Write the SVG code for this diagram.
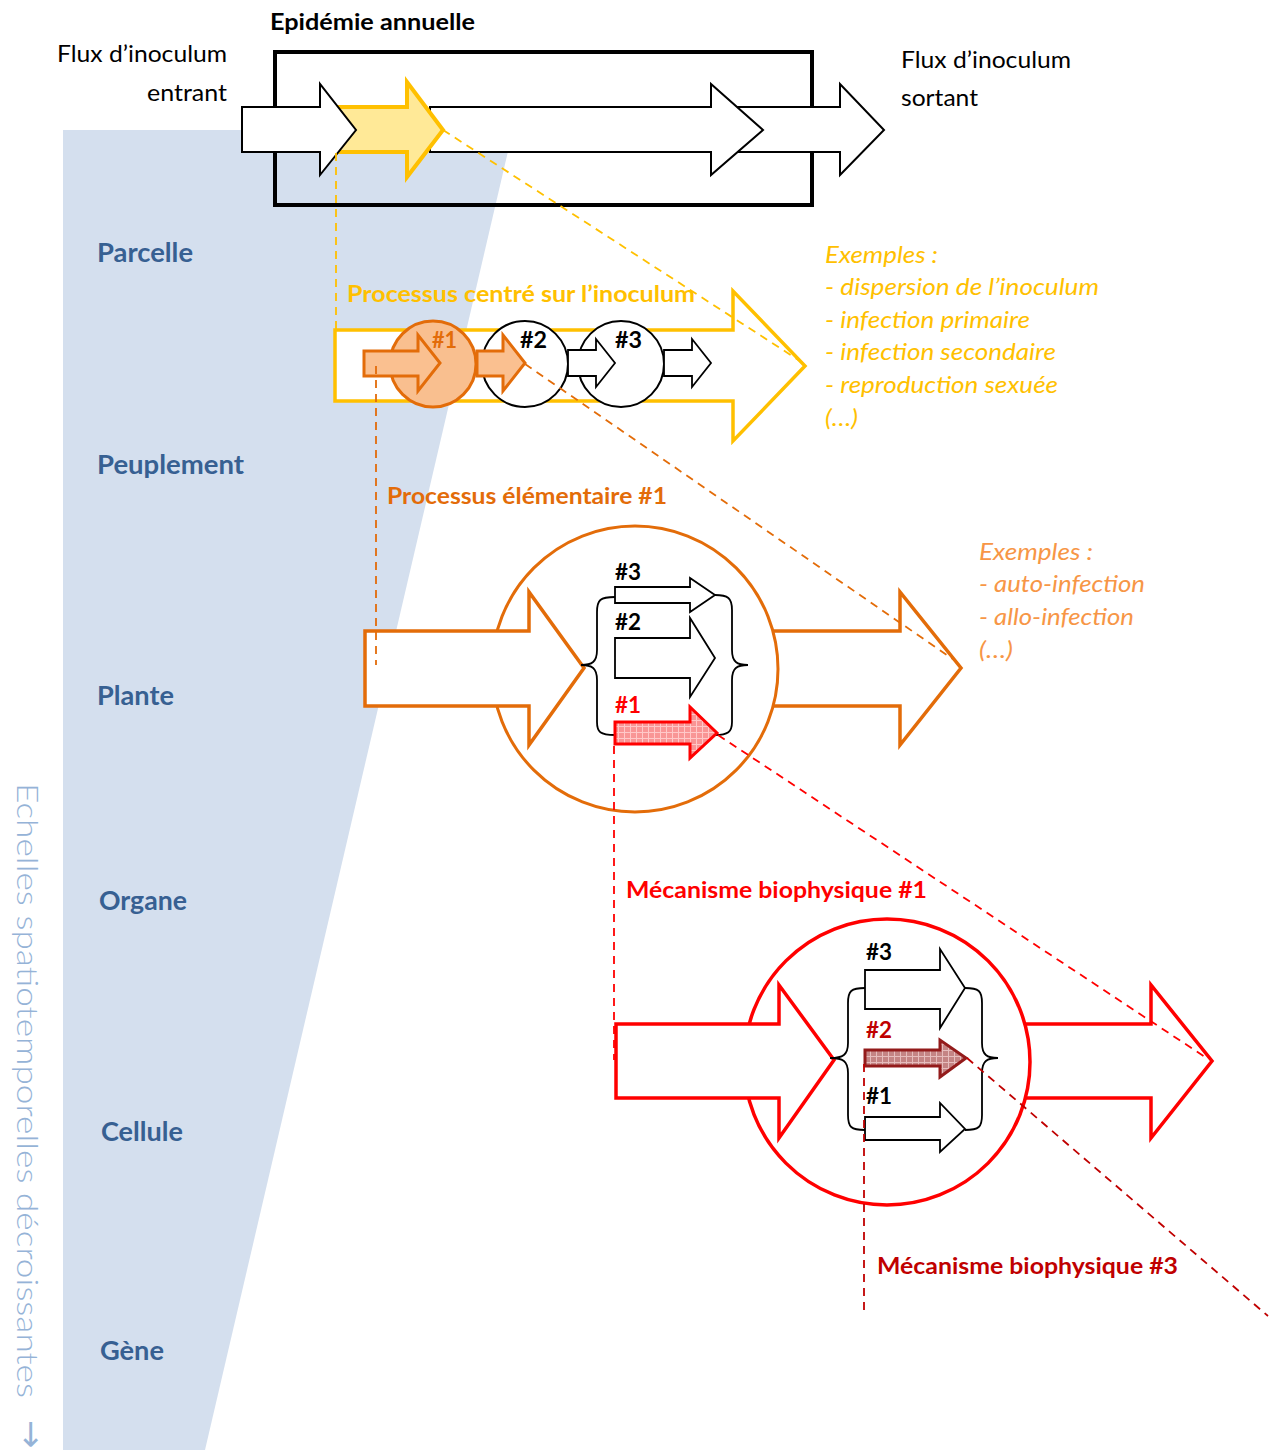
<svg xmlns="http://www.w3.org/2000/svg" width="1279" height="1450" viewBox="0 0 1279 1450">
<style>
text{font-family:Lato,"Open Sans","Liberation Sans",sans-serif}
.b{font-weight:bold}
.i{font-style:italic}
.lab{font-size:26px;font-weight:bold;fill:#376092}
.t{font-size:23.5px}
.wa{fill:#fff;stroke:#000;stroke-width:2;stroke-linejoin:miter}
.ba{fill:#fff;stroke:#000;stroke-width:1.8}
.br{fill:none;stroke:#000;stroke-width:1.8}
.dash{fill:none;stroke-width:1.8;stroke-dasharray:8 6}
.hash{font-size:23px;font-weight:bold}
</style>
<defs>
<pattern id="hatchRed" width="6" height="6" patternUnits="userSpaceOnUse">
<rect width="6" height="6" fill="#F99595"/>
<path d="M0,0.5H6M0.5,0V6" stroke="#FFC8C8" stroke-width="1"/>
</pattern>
<pattern id="hatchDark" width="6" height="6" patternUnits="userSpaceOnUse">
<rect width="6" height="6" fill="#C48484"/>
<path d="M0,0.5H6M0.5,0V6" stroke="#E6BDBD" stroke-width="1"/>
</pattern>
</defs>
<rect width="1279" height="1450" fill="#fff"/>
<polygon id="scale-band" points="63,130 513,130 205,1450 63,1450" fill="#D4DFEE"/>
<text transform="translate(17,783) rotate(90)" font-size="29" font-weight="300" fill="#95B3D7" textLength="615" lengthAdjust="spacingAndGlyphs">Echelles spatiotemporelles décroissantes</text>
<text transform="translate(20,1420) rotate(90)" font-size="34" fill="#95B3D7" style="font-family:'DejaVu Sans',sans-serif">→</text>
<g id="scale-labels">
<text class="lab" x="97" y="262" textLength="96" lengthAdjust="spacingAndGlyphs">Parcelle</text>
<text class="lab" x="97" y="474" textLength="147" lengthAdjust="spacingAndGlyphs">Peuplement</text>
<text class="lab" x="97" y="705" textLength="77" lengthAdjust="spacingAndGlyphs">Plante</text>
<text class="lab" x="99" y="910" textLength="88" lengthAdjust="spacingAndGlyphs">Organe</text>
<text class="lab" x="101" y="1141" textLength="82" lengthAdjust="spacingAndGlyphs">Cellule</text>
<text class="lab" x="100" y="1360" textLength="64" lengthAdjust="spacingAndGlyphs">Gène</text>
</g>
<g id="epidemie">
<text class="t b" x="270" y="30" textLength="205" lengthAdjust="spacingAndGlyphs">Epidémie annuelle</text>
<rect x="275" y="52" width="537" height="153" fill="none" stroke="#000" stroke-width="4"/>
<path class="wa" d="M730,107 L840,107 L840,84 L884,130 L840,175 L840,152 L730,152 Z"/>
<path class="wa" d="M430,107 L711,107 L711,84 L763,130 L711,175 L711,152 L430,152 Z"/>
<path d="M330,107 L407,107 L407,82 L443,130 L407,177 L407,152 L330,152 Z" fill="#FFE997" stroke="#FFC000" stroke-width="4"/>
<path class="wa" d="M242,107 L320,107 L320,84 L356,130 L320,175 L320,152 L242,152 Z"/>
</g>
<g id="flux-entrant">
<text class="t" x="57" y="62" textLength="170" lengthAdjust="spacingAndGlyphs">Flux d’inoculum</text>
<text class="t" x="147" y="101" textLength="80" lengthAdjust="spacingAndGlyphs">entrant</text>
</g>
<g id="flux-sortant">
<text class="t" x="901" y="68" textLength="170" lengthAdjust="spacingAndGlyphs">Flux d’inoculum</text>
<text class="t" x="901" y="106" textLength="77" lengthAdjust="spacingAndGlyphs">sortant</text>
</g>
<g id="processus-inoculum">
<text class="t b" x="347" y="302" fill="#FFC000" textLength="348" lengthAdjust="spacingAndGlyphs">Processus centré sur l’inoculum</text>
<path d="M335,330 L733,330 L733,291 L805,366 L733,441 L733,401 L335,401 Z" fill="#fff" stroke="#FFC000" stroke-width="3.5"/>
<circle cx="433" cy="364" r="43" fill="#F9BF8F" stroke="#E36C09" stroke-width="3"/>
<circle cx="525" cy="364" r="43" fill="#fff" stroke="#000" stroke-width="2"/>
<circle cx="621" cy="364" r="43" fill="#fff" stroke="#000" stroke-width="2"/>
<path d="M364,351 L418,351 L418,335 L440,363 L418,391 L418,376 L364,376 Z" fill="#FAC090" stroke="#E36C09" stroke-width="3"/>
<path d="M477,351 L503,351 L503,335 L525,363 L503,391 L503,376 L477,376 Z" fill="#FAC090" stroke="#E36C09" stroke-width="3"/>
<path class="ba" d="M568,350 L596,350 L596,339 L615,363 L596,387 L596,376 L568,376 Z"/>
<path class="ba" d="M664,350 L692,350 L692,339 L711,363 L692,387 L692,376 L664,376 Z"/>
<text class="hash" x="432" y="348" fill="#E36C09" textLength="25" lengthAdjust="spacingAndGlyphs">#1</text>
<text class="hash" x="520" y="348" textLength="27" lengthAdjust="spacingAndGlyphs">#2</text>
<text class="hash" x="615" y="348" textLength="27" lengthAdjust="spacingAndGlyphs">#3</text>
</g>
<g id="exemples-inoculum" class="t i" fill="#FFC000">
<text x="825" y="263" textLength="113" lengthAdjust="spacingAndGlyphs">Exemples :</text>
<text x="825" y="295" textLength="274" lengthAdjust="spacingAndGlyphs">- dispersion de l’inoculum</text>
<text x="825" y="328" textLength="205" lengthAdjust="spacingAndGlyphs">- infection primaire</text>
<text x="825" y="360" textLength="231" lengthAdjust="spacingAndGlyphs">- infection secondaire</text>
<text x="825" y="393" textLength="233" lengthAdjust="spacingAndGlyphs">- reproduction sexuée</text>
<text x="825" y="426" textLength="33" lengthAdjust="spacingAndGlyphs">(…)</text>
</g>
<g id="processus-elementaire">
<text class="t b" x="387" y="504" fill="#E36C09" textLength="280" lengthAdjust="spacingAndGlyphs">Processus élémentaire #1</text>
<path d="M770,631 L900,631 L900,592 L961,668 L900,745 L900,706 L770,706 Z" fill="#fff" stroke="#E36C09" stroke-width="3.5"/>
<circle cx="635" cy="669" r="143" fill="#fff" stroke="#E36C09" stroke-width="3"/>
<path d="M365,631 L529,631 L529,592 L584,668 L529,745 L529,706 L365,706 Z" fill="#fff" stroke="#E36C09" stroke-width="3.5"/>
<path class="br" d="M615,597 C600,597 597,600 597,612 L597,650 C597,662 592,665 581,665 C592,665 597,668 597,680 L597,722 C597,732 600,735 615,735"/>
<path class="br" d="M715,595 C728,595 732,598 732,610 L732,650 C732,662 737,665 748,665 C737,665 732,668 732,680 L732,722 C732,732 728,735 715,735"/>
<path class="ba" d="M615,587 L690,587 L690,578 L715,595 L690,612 L690,603 L615,603 Z"/>
<path class="ba" d="M615,638 L690,638 L690,618 L715,658 L690,697 L690,678 L615,678 Z"/>
<path d="M615,722 L690,722 L690,707 L717,733 L690,758 L690,744 L615,744 Z" fill="url(#hatchRed)" stroke="#FF0000" stroke-width="3"/>
<text class="hash" x="615" y="580" textLength="26" lengthAdjust="spacingAndGlyphs">#3</text>
<text class="hash" x="615" y="630" textLength="26" lengthAdjust="spacingAndGlyphs">#2</text>
<text class="hash" x="615" y="713" fill="#FF0000" textLength="26" lengthAdjust="spacingAndGlyphs">#1</text>
</g>
<g id="exemples-elementaire" class="t i" fill="#F79646">
<text x="979" y="560" textLength="114" lengthAdjust="spacingAndGlyphs">Exemples :</text>
<text x="979" y="592" textLength="166" lengthAdjust="spacingAndGlyphs">- auto-infection</text>
<text x="979" y="625" textLength="155" lengthAdjust="spacingAndGlyphs">- allo-infection</text>
<text x="979" y="658" textLength="34" lengthAdjust="spacingAndGlyphs">(…)</text>
</g>
<g id="mecanisme-1">
<text class="t b" x="626" y="898" fill="#FF0000" textLength="301" lengthAdjust="spacingAndGlyphs">Mécanisme biophysique #1</text>
<path d="M1020,1024 L1151,1024 L1151,985 L1212,1061 L1151,1138 L1151,1098 L1020,1098 Z" fill="#fff" stroke="#FF0000" stroke-width="3.5"/>
<circle cx="887" cy="1062" r="143" fill="#fff" stroke="#FF0000" stroke-width="3.5"/>
<path d="M616,1024 L779,1024 L779,985 L834,1060 L779,1138 L779,1098 L616,1098 Z" fill="#fff" stroke="#FF0000" stroke-width="3.5"/>
<path class="br" d="M865,988 C851,988 848,991 848,1003 L848,1043 C848,1055 843,1058 830,1058 C843,1058 848,1061 848,1073 L848,1115 C848,1127 851,1130 865,1130"/>
<path class="br" d="M965,988 C979,988 982,991 982,1003 L982,1043 C982,1055 987,1058 998,1058 C987,1058 982,1061 982,1073 L982,1115 C982,1127 979,1130 965,1130"/>
<path class="ba" d="M865,970 L940,970 L940,949 L965,988 L940,1028 L940,1009 L865,1009 Z"/>
<path d="M865,1050 L940,1050 L940,1040 L966,1058 L940,1077 L940,1066 L865,1066 Z" fill="url(#hatchDark)" stroke="#931B1B" stroke-width="3"/>
<path class="ba" d="M865,1117 L940,1117 L940,1103 L965,1129 L940,1152 L940,1140 L865,1140 Z"/>
<text class="hash" x="866" y="960" textLength="26" lengthAdjust="spacingAndGlyphs">#3</text>
<text class="hash" x="866" y="1038" fill="#C00000" textLength="26" lengthAdjust="spacingAndGlyphs">#2</text>
<text class="hash" x="866" y="1104" textLength="26" lengthAdjust="spacingAndGlyphs">#1</text>
</g>
<g id="mecanisme-3">
<text class="t b" x="877" y="1274" fill="#C00000" textLength="301" lengthAdjust="spacingAndGlyphs">Mécanisme biophysique #3</text>
</g>
<g id="connectors">
<path class="dash" stroke="#FFC000" d="M336,153 L336,330"/>
<path class="dash" stroke="#FFC000" d="M443,130 L800,361"/>
<path class="dash" stroke="#E36C09" d="M376,366 L376,665"/>
<path class="dash" stroke="#E36C09" d="M525,364 L957,662"/>
<path class="dash" stroke="#FF0000" d="M614,746 L614,1060"/>
<path class="dash" stroke="#FF0000" d="M718,735 L1205,1057"/>
<path class="dash" stroke="#C00000" d="M864,1064 L864,1315"/>
<path class="dash" stroke="#C00000" d="M967,1058 L1268,1316"/>
</g>
</svg>
